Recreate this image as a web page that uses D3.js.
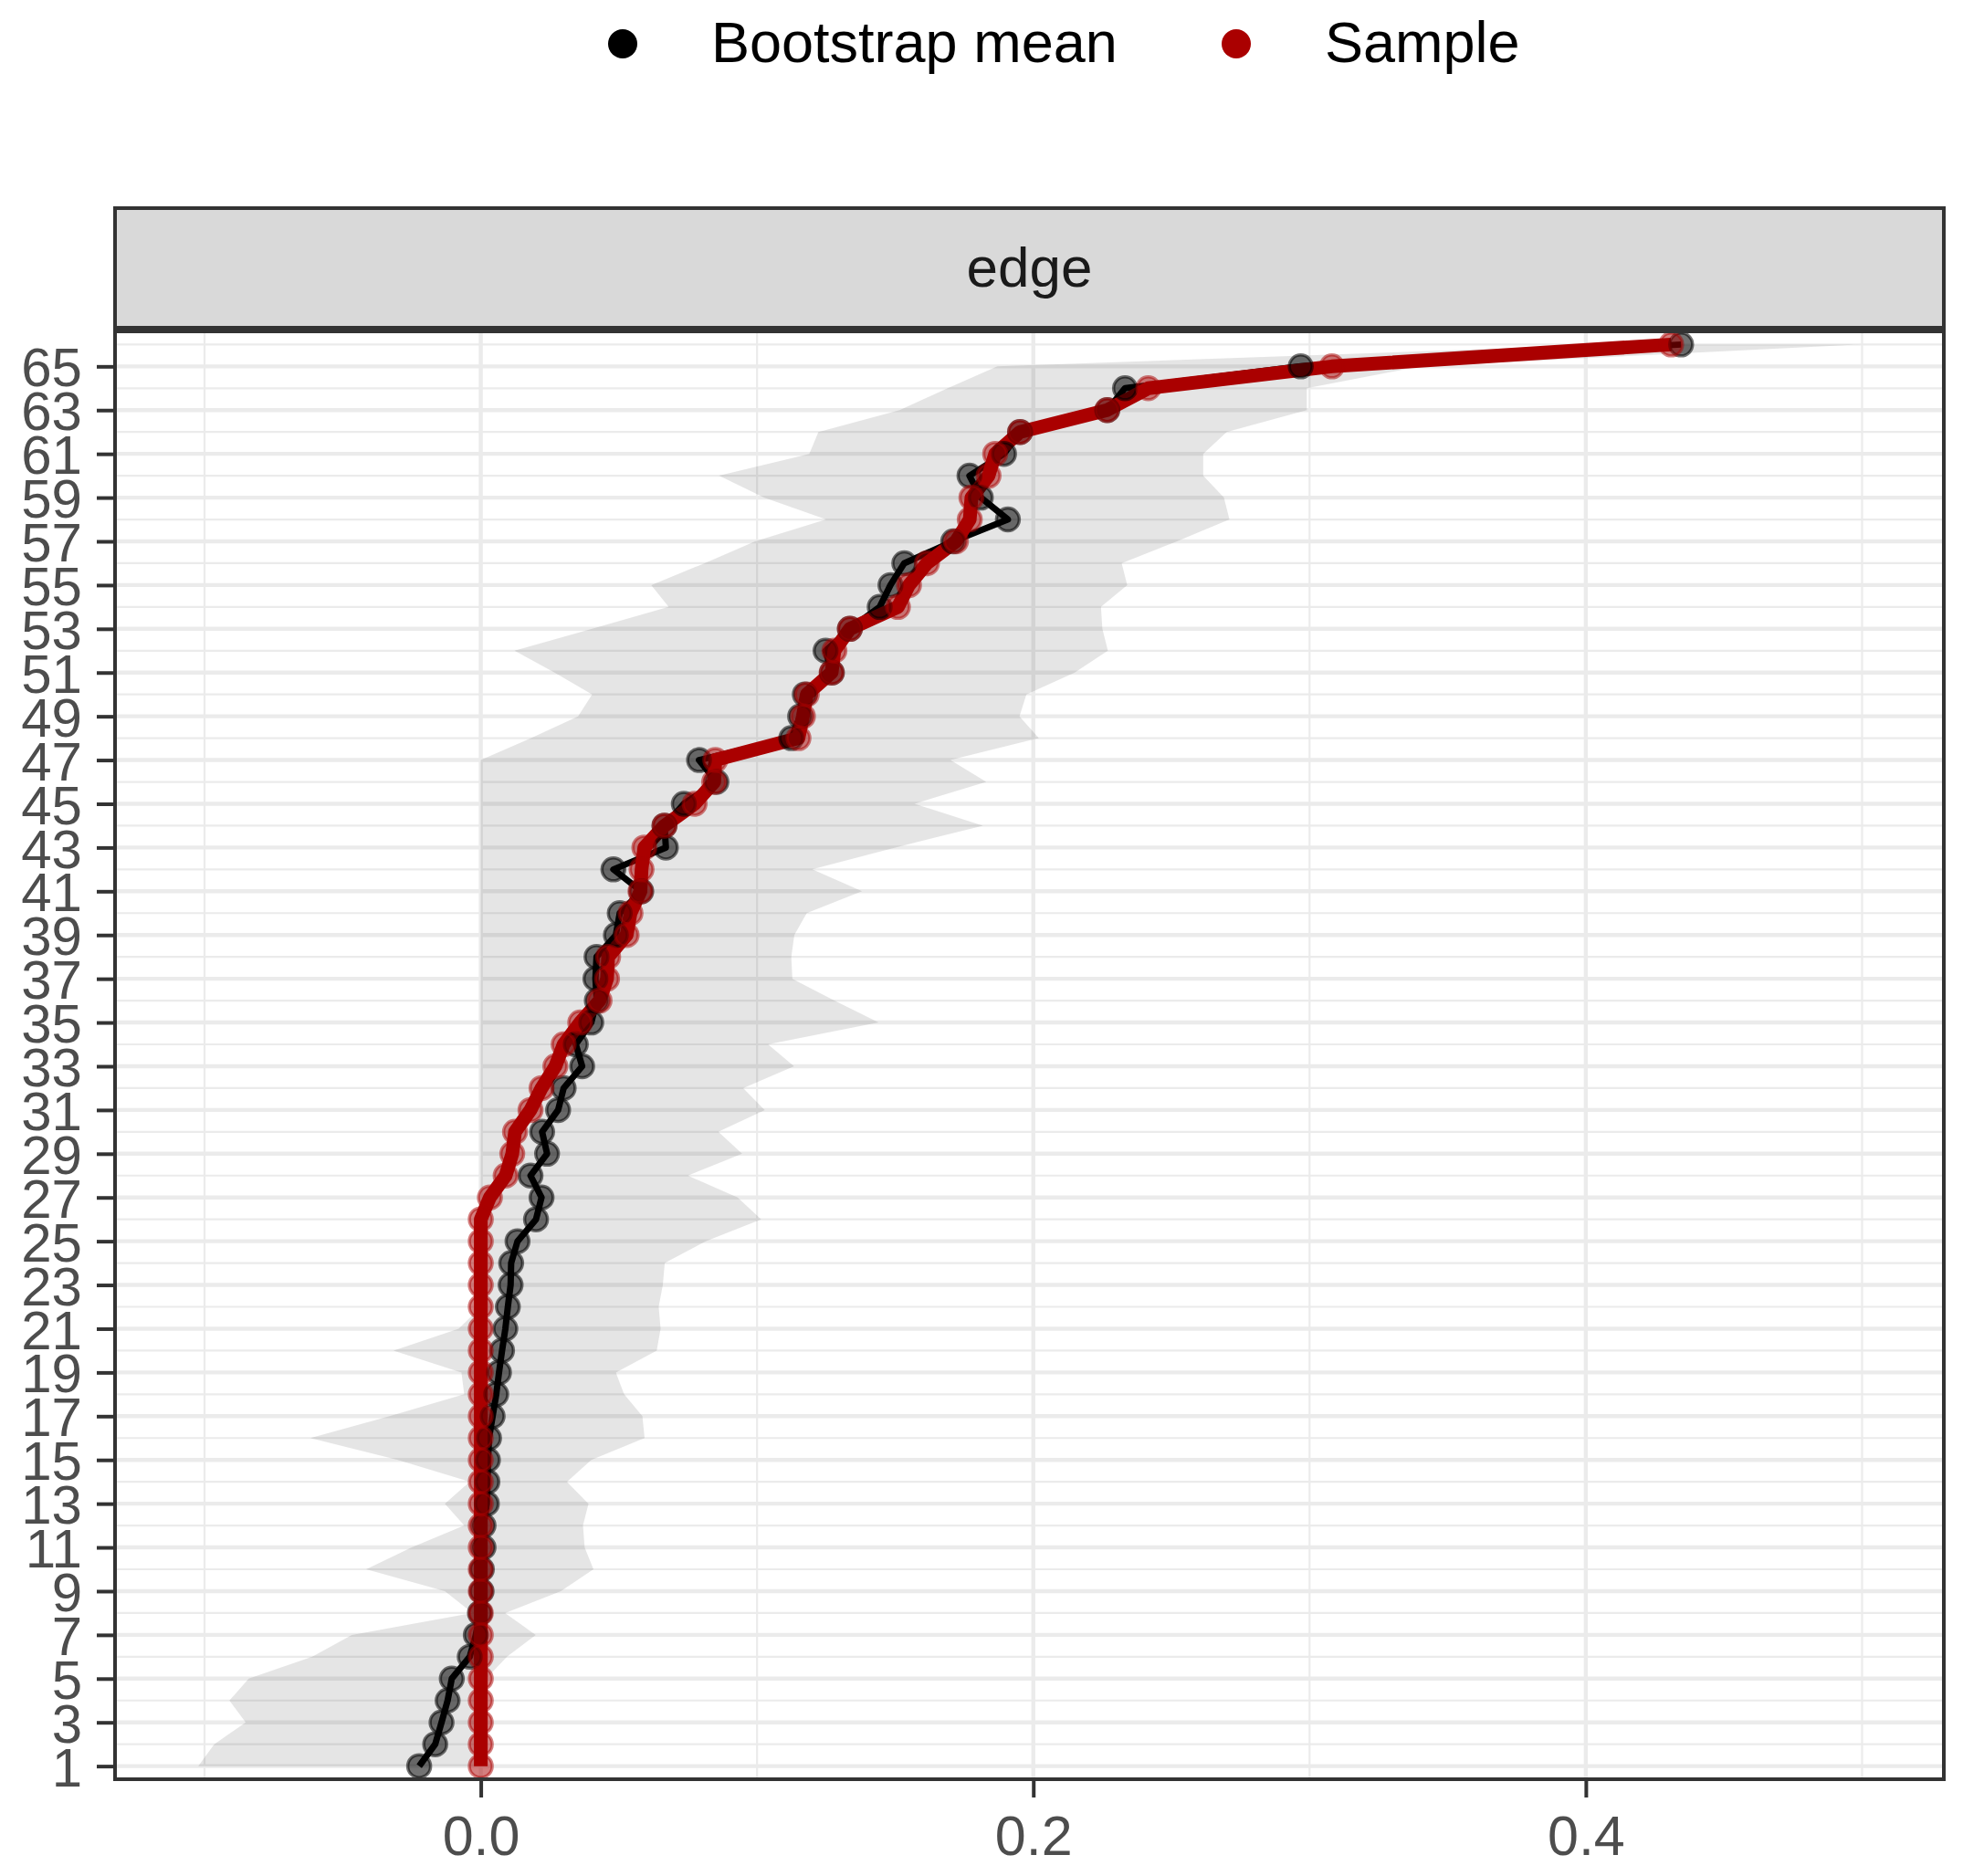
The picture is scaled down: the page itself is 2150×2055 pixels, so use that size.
<!DOCTYPE html>
<html>
<head>
<meta charset="utf-8">
<script src="https://cdn.jsdelivr.net/npm/d3@7"></script>
<style>
html, body { margin: 0; padding: 0; background: #ffffff; }
svg { display: block; }
</style>
</head>
<body>
<svg id="chart" width="2150" height="2055"></svg>
<script>
// ---------------- DATA ----------------
const edgeIds = [1,2,3,4,5,6,7,8,9,10,11,12,13,14,15,16,17,18,19,20,21,22,23,24,25,26,27,28,29,30,31,32,33,
  34,35,36,37,38,39,40,41,42,43,44,45,46,47,48,49,50,51,52,53,54,55,56,57,58,59,60,61,62,63,64,65,66];

const sampleValues = [0,0,0,0,0,0,0,0,0,0,0,0,0,0,0,0,0,0,0,0,0,0,0,0,0,0,
  0.0033,0.0090,0.0114,0.0124,0.0180,0.0220,0.0270,0.0300,0.0360,0.0430,0.0457,0.0461,0.0528,0.0542,
  0.0578,0.0582,0.0592,0.0665,0.0774,0.0845,0.0849,0.1150,0.1166,0.1180,0.1270,0.1280,0.1336,0.1510,
  0.1550,0.1615,0.1720,0.1770,0.1776,0.1838,0.1862,0.1952,0.2267,0.2416,0.3081,0.4309];

const bootMeans = [-0.0223,-0.0165,-0.0142,-0.0120,-0.0105,-0.0040,-0.0018,-0.0003,0.0003,0.0004,
  0.0010,0.0010,0.0022,0.0024,0.0026,0.0030,0.0043,0.0056,0.0066,0.0077,0.0089,0.0098,0.0108,0.0110,
  0.0133,0.0200,0.0220,0.0180,0.0240,0.0222,0.0280,0.0300,0.0367,0.0344,0.0400,0.0420,0.0415,0.0419,
  0.0489,0.0503,0.0581,0.0480,0.0670,0.0665,0.0735,0.0853,0.0790,0.1124,0.1156,0.1173,0.1271,0.1248,
  0.1336,0.1444,0.1483,0.1533,0.1710,0.1908,0.1810,0.1769,0.1894,0.1952,0.2268,0.2332,0.2968,0.4345];

const ciLower = [-0.1023,-0.0965,-0.0851,-0.0910,-0.0840,-0.0610,-0.0467,-0.0030,-0.0130,-0.0415,
  -0.0250,-0.0060,-0.0130,-0.0040,-0.0300,-0.0617,-0.0330,-0.0060,-0.0070,-0.0316,-0.0080,
  0,0,0,0,0,0,0,0,0,0,0,0,0,0,0,0,0,0,0,0,0,0,0,0,0,0,
  0.0182,0.0352,0.0403,0.0267,0.0122,0.0403,0.0680,0.0617,0.0810,0.0993,0.1250,0.1025,0.0862,
  0.1189,0.1222,0.1516,0.1690,0.1870,0.4100];

const ciUpper = [0.0000,0.0000,0.0000,0.0000,0.0020,0.0095,0.0199,0.0088,0.0290,0.0408,
  0.0376,0.0370,0.0390,0.0312,0.0400,0.0593,0.0585,0.0519,0.0489,0.0637,
  0.0651,0.0644,0.0659,0.0666,0.0814,0.1015,0.0930,0.0750,0.0946,0.0860,
  0.1028,0.0950,0.1134,0.1040,0.1440,0.1280,0.1128,0.1124,0.1135,0.1180,
  0.1380,0.1200,0.1500,0.1818,0.1570,0.1830,0.1700,0.2020,0.1950,0.1975,
  0.2150,0.2270,0.2250,0.2245,0.2340,0.2320,0.2520,0.2710,0.2690,0.2615,
  0.2615,0.2700,0.2990,0.2990,0.3400,0.4995];

const xMajorTicks = [0, 0.2, 0.4];
const xTickLabels = ["0.0", "0.2", "0.4"];
const xMinorTicks = [-0.1, 0.1, 0.3, 0.5];
const yTickLabels = ["1","3","5","7","9","11","13","15","17","19","21","23","25","27","29","31","33",
  "35","37","39","41","43","45","47","49","51","53","55","57","59","61","63","65"];
const facetLabel = "edge";
const legendLabels = ["Bootstrap mean", "Sample"];

// ---------------- LAYOUT ----------------
const FONT = "'Liberation Sans', Arial, Helvetica, sans-serif";
const panel = { left: 126, right: 2129, top: 363, bottom: 1949 };
const stripBox = { top: 228, bottom: 359 };
const colMean = "#000000";
const colSample = "#AA0000";

const rows = edgeIds.map((id, i) => ({
  id, sample: sampleValues[i], mean: bootMeans[i], lo: ciLower[i], hi: ciUpper[i]
}));

const xMin = d3.min(ciLower), xMax = d3.max(ciUpper);
const xPad = (xMax - xMin) * 0.05;
const x = d3.scaleLinear().domain([xMin - xPad, xMax + xPad]).range([panel.left, panel.right]);
const y = d3.scaleLinear()
  .domain([d3.min(edgeIds) - 0.6, d3.max(edgeIds) + 0.6])
  .range([panel.bottom, panel.top]);

const svg = d3.select("#chart");
svg.append("rect").attr("width", 2150).attr("height", 2055).attr("fill", "#ffffff");

svg.append("defs").append("clipPath").attr("id", "clip")
  .append("rect")
  .attr("x", panel.left).attr("y", panel.top)
  .attr("width", panel.right - panel.left).attr("height", panel.bottom - panel.top);

const plot = svg.append("g").attr("clip-path", "url(#clip)");

// gridlines
const gridCol = "#EBEBEB";
plot.selectAll("line.gx-minor").data(xMinorTicks).join("line")
  .attr("x1", d => x(d)).attr("x2", d => x(d))
  .attr("y1", panel.top).attr("y2", panel.bottom)
  .attr("stroke", gridCol).attr("stroke-width", 2.2);
plot.selectAll("line.gy-minor").data(edgeIds.filter(d => d % 2 === 0)).join("line")
  .attr("x1", panel.left).attr("x2", panel.right)
  .attr("y1", d => y(d)).attr("y2", d => y(d))
  .attr("stroke", gridCol).attr("stroke-width", 2.2);
plot.selectAll("line.gx-major").data(xMajorTicks).join("line")
  .attr("x1", d => x(d)).attr("x2", d => x(d))
  .attr("y1", panel.top).attr("y2", panel.bottom)
  .attr("stroke", gridCol).attr("stroke-width", 4.4);
plot.selectAll("line.gy-major").data(yTickLabels.map(Number)).join("line")
  .attr("x1", panel.left).attr("x2", panel.right)
  .attr("y1", d => y(d)).attr("y2", d => y(d))
  .attr("stroke", gridCol).attr("stroke-width", 4.4);

// ribbon
const area = d3.area()
  .y(d => y(d.id))
  .x0(d => x(d.lo))
  .x1(d => x(d.hi));
plot.append("path").datum(rows)
  .attr("d", area)
  .attr("fill", "#000000").attr("fill-opacity", 0.1);

// lines (mean first, then sample), then points
const lineSample = d3.line().x(d => x(d.sample)).y(d => y(d.id));
const lineMean = d3.line().x(d => x(d.mean)).y(d => y(d.id));

plot.append("path").datum(rows).attr("d", lineMean)
  .attr("fill", "none").attr("stroke", colMean).attr("stroke-width", 7)
  .attr("stroke-linejoin", "round");

plot.append("path").datum(rows).attr("d", lineSample)
  .attr("fill", "none").attr("stroke", colSample).attr("stroke-width", 15)
  .attr("stroke-linejoin", "round");

plot.selectAll("circle.pm").data(rows).join("circle")
  .attr("cx", d => x(d.mean)).attr("cy", d => y(d.id)).attr("r", 12.5)
  .attr("fill", colMean).attr("fill-opacity", 0.55)
  .attr("stroke", colMean).attr("stroke-opacity", 0.55).attr("stroke-width", 3.5);

plot.selectAll("circle.ps").data(rows).join("circle")
  .attr("cx", d => x(d.sample)).attr("cy", d => y(d.id)).attr("r", 12.5)
  .attr("fill", colSample).attr("fill-opacity", 0.5)
  .attr("stroke", colSample).attr("stroke-opacity", 0.5).attr("stroke-width", 3.5);

// panel border
svg.append("rect")
  .attr("x", panel.left).attr("y", panel.top)
  .attr("width", panel.right - panel.left).attr("height", panel.bottom - panel.top)
  .attr("fill", "none").attr("stroke", "#333333").attr("stroke-width", 4);

// strip
svg.append("rect")
  .attr("x", panel.left).attr("y", stripBox.top)
  .attr("width", panel.right - panel.left).attr("height", stripBox.bottom - stripBox.top)
  .attr("fill", "#D9D9D9").attr("stroke", "#333333").attr("stroke-width", 4);
svg.append("text")
  .attr("x", (panel.left + panel.right) / 2)
  .attr("y", 314)
  .attr("text-anchor", "middle")
  .attr("font-family", FONT).attr("font-size", 62).attr("fill", "#1A1A1A")
  .text(facetLabel);

// axes
const yAxis = d3.axisLeft(y)
  .tickValues(yTickLabels.map(Number))
  .tickFormat((d, i) => yTickLabels[i])
  .tickSize(20).tickPadding(16);
const gy = svg.append("g").attr("transform", `translate(${panel.left},0)`).call(yAxis);
gy.select(".domain").remove();
gy.selectAll(".tick line").attr("stroke", "#333333").attr("stroke-width", 4);
gy.selectAll(".tick text")
  .attr("font-family", FONT).attr("font-size", 60).attr("fill", "#4D4D4D")
  .attr("dy", "0.36em");

const xAxis = d3.axisBottom(x)
  .tickValues(xMajorTicks)
  .tickFormat((d, i) => xTickLabels[i])
  .tickSize(20).tickPadding(20);
const gx = svg.append("g").attr("transform", `translate(0,${panel.bottom})`).call(xAxis);
gx.select(".domain").remove();
gx.selectAll(".tick line").attr("stroke", "#333333").attr("stroke-width", 4);
gx.selectAll(".tick text")
  .attr("font-family", FONT).attr("font-size", 61).attr("fill", "#4D4D4D")
  .attr("dy", "0.71em");

// legend
const legend = svg.append("g");
const legendItems = [
  { label: legendLabels[0], color: colMean, cx: 682, tx: 779 },
  { label: legendLabels[1], color: colSample, cx: 1354, tx: 1451 }
];
legendItems.forEach(it => {
  legend.append("circle").attr("cx", it.cx).attr("cy", 48).attr("r", 16)
    .attr("fill", it.color);
  legend.append("text").attr("x", it.tx).attr("y", 68)
    .attr("font-family", FONT).attr("font-size", 63).attr("fill", "#000000")
    .text(it.label);
});
</script>
</body>
</html>
